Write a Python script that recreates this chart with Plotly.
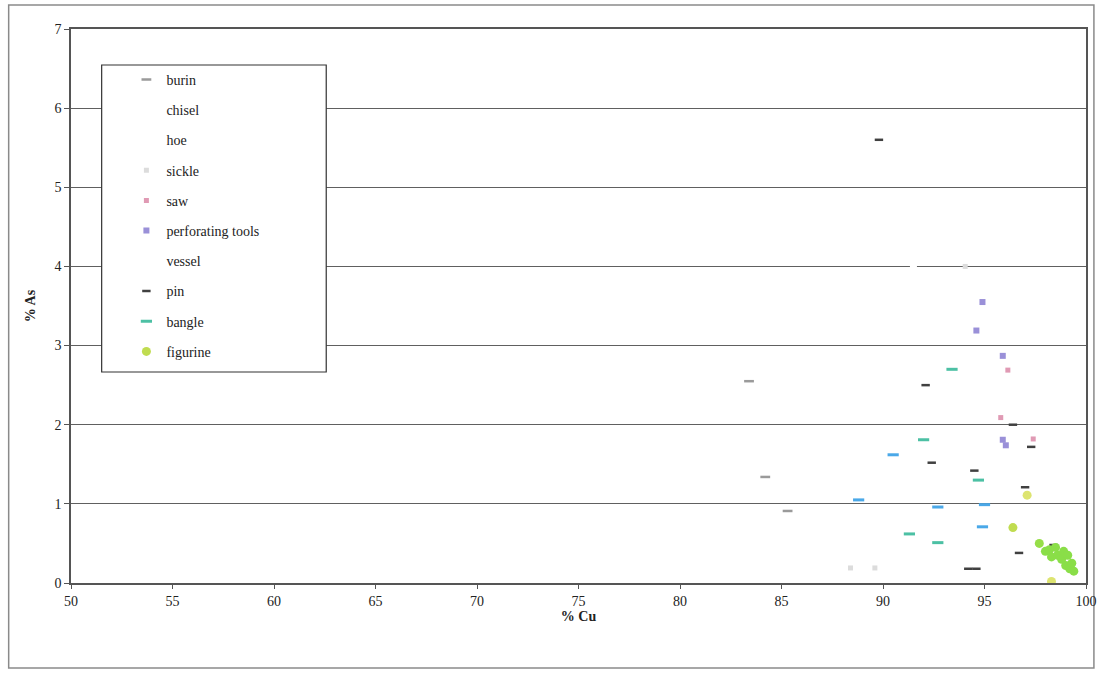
import plotly.graph_objects as go

# ---- data ----
burin_cu = [83.4, 84.2, 85.3]
burin_as = [2.55, 1.34, 0.91]

chisel_cu = [91.5]
chisel_as = [4.0]

hoe_cu = [87.0]
hoe_as = [1.5]

sickle_cu = [88.4, 89.6, 94.05]
sickle_as = [0.19, 0.19, 4.0]

saw_cu = [95.8, 97.4, 96.15]
saw_as = [2.09, 1.82, 2.69]

perf_cu = [94.9, 94.6, 95.9, 95.9, 96.05]
perf_as = [3.55, 3.19, 2.87, 1.81, 1.74]

vessel_cu = [95.5]
vessel_as = [2.3]

pin_cu = [89.8, 92.1, 96.4, 97.3, 92.4, 94.5, 97.0, 96.7, 94.2, 94.6, 98.4]
pin_as = [5.6, 2.50, 2.0, 1.72, 1.52, 1.42, 1.21, 0.38, 0.18, 0.18, 0.48]

bangle_cu = [93.4, 92.0, 94.7, 91.3, 92.7, 90.5, 88.8, 92.7, 95.0, 94.9]
bangle_as = [2.70, 1.81, 1.30, 0.62, 0.51, 1.62, 1.05, 0.96, 0.99, 0.71]
bangle_col = ["#4cc0a4", "#4cc0a4", "#4cc0a4", "#4cc0a4", "#4cc0a4",
              "#4aa8e8", "#4aa8e8", "#4aa8e8", "#4aa8e8", "#4aa8e8"]

fig_cu = [96.4, 97.1, 97.7, 98.0, 98.2, 98.3, 98.5, 98.6, 98.8, 98.9,
          99.0, 99.1, 99.2, 99.3, 99.4, 98.3]
fig_as = [0.70, 1.11, 0.50, 0.40, 0.42, 0.33, 0.45, 0.35, 0.30, 0.40,
          0.22, 0.35, 0.18, 0.25, 0.15, 0.02]
fig_col = ["#c0dc50", "#dde470", "#96de48", "#8ade48", "#8ade48", "#8ade48",
           "#8ade48", "#8ade48", "#8ade48", "#8ade48", "#8ade48", "#8ade48",
           "#8ade48", "#8ade48", "#8ade48", "#dde470"]

FONT = "Liberation Serif"

fig = go.Figure()


def dash_trace(name, xs, ys, color, size=7, width=2.5):
    return go.Scatter(
        x=xs, y=ys, mode="markers", name=name, legendgroup=name,
        marker=dict(symbol="line-ew", size=size, color=color,
                    line=dict(color=color, width=width)),
    )


fig.add_trace(dash_trace("burin", burin_cu, burin_as, "#9a9a9a"))
fig.add_trace(go.Scatter(x=chisel_cu, y=chisel_as, mode="markers", name="chisel",
                         legendgroup="chisel",
                         marker=dict(symbol="square", size=7, color="white")))
fig.add_trace(go.Scatter(x=hoe_cu, y=hoe_as, mode="markers", name="hoe",
                         legendgroup="hoe",
                         marker=dict(symbol="square", size=6, color="white")))
fig.add_trace(go.Scatter(x=sickle_cu, y=sickle_as, mode="markers", name="sickle",
                         legendgroup="sickle",
                         marker=dict(symbol="square", size=5, color="#dcdcdc")))
fig.add_trace(go.Scatter(x=saw_cu, y=saw_as, mode="markers", name="saw",
                         legendgroup="saw",
                         marker=dict(symbol="square", size=5, color="#e09ab4")))
fig.add_trace(go.Scatter(x=perf_cu, y=perf_as, mode="markers", name="perforating tools",
                         legendgroup="perf",
                         marker=dict(symbol="square", size=6, color="#9a90d8")))
fig.add_trace(go.Scatter(x=vessel_cu, y=vessel_as, mode="markers", name="vessel",
                         legendgroup="vessel",
                         marker=dict(symbol="square", size=6, color="white")))
fig.add_trace(dash_trace("pin", pin_cu, pin_as, "#404040", size=6, width=2.5))
fig.add_trace(go.Scatter(
    x=bangle_cu, y=bangle_as, mode="markers", name="bangle", legendgroup="bangle",
    marker=dict(symbol="line-ew", size=8, color=bangle_col,
                line=dict(color=bangle_col, width=3))))
fig.add_trace(go.Scatter(x=fig_cu, y=fig_as, mode="markers", name="figurine",
                         legendgroup="figurine",
                         marker=dict(symbol="circle", size=9, color=fig_col)))

W, H = 1109, 674
L, R, T, B = 71, 12, 29, 91
pw, ph = W - L - R, H - T - B


def px(xpix):
    return (xpix - L) / pw


def py(ypix):
    return (H - B - ypix) / ph


fig.update_layout(
    width=W, height=H,
    margin=dict(l=L, r=R, t=T, b=B),
    paper_bgcolor="white", plot_bgcolor="white",
    font=dict(family=FONT, size=14, color="#222"),
    showlegend=True,
    legend=dict(
        x=px(127), y=py(64), xanchor="left", yanchor="top",
        bgcolor="rgba(0,0,0,0)", borderwidth=0,
        font=dict(family=FONT, size=14, color="#222"),
        tracegroupgap=9, itemsizing="trace",
    ),
    xaxis=dict(
        range=[50, 100], tickvals=[50, 55, 60, 65, 70, 75, 80, 85, 90, 95, 100],
        showgrid=False, zeroline=False,
        showline=True, linecolor="#555", linewidth=1.5, mirror=True,
        ticks="outside", ticklen=4, tickcolor="#555",
        tickfont=dict(family=FONT, size=14, color="#222"),
        title=dict(text="<b>% Cu</b>", font=dict(family=FONT, size=14, color="#222"),
                   standoff=0),
    ),
    yaxis=dict(
        range=[0, 7], tickvals=[0, 1, 2, 3, 4, 5, 6, 7],
        showgrid=True, gridcolor="#606060", gridwidth=1, zeroline=False,
        showline=True, linecolor="#555", linewidth=1.5, mirror=True,
        ticks="outside", ticklen=5, tickcolor="#555",
        tickfont=dict(family=FONT, size=14, color="#222"),
        title=dict(text="<b>% As</b>", font=dict(family=FONT, size=14, color="#222"),
                   standoff=16),
    ),
    shapes=[
        dict(type="rect", xref="paper", yref="paper",
             x0=px(8), x1=px(1105), y0=py(668), y1=py(5),
             line=dict(color="#8a8a8a", width=1.5), fillcolor="rgba(0,0,0,0)",
             layer="below"),
        dict(type="rect", xref="paper", yref="paper",
             x0=px(102), x1=px(329), y0=py(372), y1=py(65),
             line=dict(color="#333", width=1.2), fillcolor="white",
             layer="above"),
    ],
)

fig.write_html("out.html",
               config={"displayModeBar": False},
               post_script="document.body.style.margin='0';document.body.style.overflow='hidden';")
